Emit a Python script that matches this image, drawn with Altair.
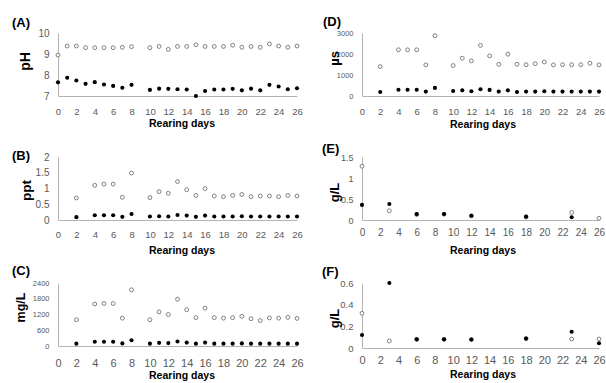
import altair as alt
import pandas as pd

# ---------------- data ----------------
days_ph = [0, 1, 2, 3, 4, 5, 6, 7, 8, 10, 11, 12, 13, 14, 15, 16, 17, 18, 19, 20, 21, 22, 23, 24, 25, 26]
ph_open = [8.95, 9.38, 9.38, 9.30, 9.30, 9.30, 9.30, 9.32, 9.35, 9.30, 9.36, 9.22, 9.36, 9.36, 9.44, 9.36,
           9.36, 9.36, 9.42, 9.32, 9.36, 9.32, 9.48, 9.38, 9.32, 9.38]
ph_closed = [7.65, 7.87, 7.74, 7.58, 7.66, 7.55, 7.48, 7.39, 7.53, 7.29, 7.35, 7.34, 7.32, 7.31, 7.00, 7.24,
             7.31, 7.31, 7.34, 7.27, 7.35, 7.27, 7.53, 7.45, 7.32, 7.37]

days_wq = [2, 4, 5, 6, 7, 8, 10, 11, 12, 13, 14, 15, 16, 17, 18, 19, 20, 21, 22, 23, 24, 25, 26]
us_open = [1400, 2200, 2200, 2200, 1480, 2870, 1450, 1800, 1670, 2410, 1910, 1510, 1990, 1510, 1490, 1540,
           1620, 1480, 1490, 1490, 1490, 1560, 1480]
us_closed = [190, 300, 300, 300, 210, 385, 240, 270, 225, 320, 290, 210, 270, 190, 210, 210, 225, 210, 210,
             210, 210, 210, 210]
ppt_open = [0.70, 1.10, 1.14, 1.14, 0.72, 1.49, 0.71, 0.90, 0.85, 1.22, 0.96, 0.78, 1.00, 0.76, 0.74, 0.78,
            0.81, 0.74, 0.76, 0.76, 0.74, 0.78, 0.76]
ppt_closed = [0.09, 0.15, 0.15, 0.15, 0.10, 0.19, 0.11, 0.12, 0.11, 0.16, 0.14, 0.10, 0.14, 0.11, 0.11, 0.11,
              0.12, 0.11, 0.11, 0.11, 0.11, 0.11, 0.11]
mgl_open = [1000, 1600, 1620, 1620, 1060, 2140, 1000, 1300, 1200, 1780, 1380, 1080, 1440, 1080, 1060, 1080,
            1130, 1040, 970, 1070, 1060, 1090, 1050]
mgl_closed = [90, 160, 160, 160, 100, 220, 90, 120, 110, 170, 130, 90, 130, 90, 90, 90, 100, 90, 90, 90, 90,
              90, 90]

days_s = [0, 3, 6, 9, 12, 18, 23, 26]
e_open = [1.28, 0.22, 0.13, 0.14, 0.10, 0.07, 0.18, 0.04]
e_days_closed = [0, 3, 6, 9, 12, 18, 23]
e_closed = [0.36, 0.38, 0.14, 0.14, 0.10, 0.08, 0.065]
f_open = [0.32, 0.065, 0.08, 0.08, 0.078, 0.087, 0.083, 0.083]
f_closed = [0.12, 0.60, 0.08, 0.08, 0.078, 0.087, 0.15, 0.044]

x_ticks = list(range(0, 27, 2))

# ---------------- style ----------------
FONT = "Liberation Sans, Arial, sans-serif"
AXIS_C = "#b3b3b3"
LABEL_C = "#595959"
FIG_W, FIG_H = 606, 383
LEFT_COL = (58, 297)
RIGHT_COL = (362, 599)


def panel(days_o, vals_o, days_c, vals_c, xr, ybot, ytop, ytitle, ydom, yvals,
          ylab_fs, xlab_fs, ytitle_fs, ytx, yty, xpad, xtx, xty):
    x_enc = alt.X(
        "day:Q",
        scale=alt.Scale(domain=[0, 26], range=[xr[0], xr[1]], nice=False, zero=False),
        axis=alt.Axis(orient="bottom", offset=ybot - FIG_H, values=x_ticks, format="d",
                      title="Rearing days", grid=False, ticks=False, tickSize=0,
                      domainColor=AXIS_C, domainWidth=1, labelColor=LABEL_C, labelFont=FONT,
                      labelFontSize=xlab_fs, labelPadding=xpad, labelFlush=False, labelOverlap=False,
                      titleFont=FONT, titleFontSize=10.5, titleFontWeight="bold", titleColor="black",
                      titleX=xtx, titleY=xty, titleAlign="center", titleBaseline="middle"),
    )
    y_enc = alt.Y(
        "value:Q",
        scale=alt.Scale(domain=ydom, range=[ybot, ytop], nice=False, zero=False),
        axis=alt.Axis(orient="left", offset=-xr[0], values=yvals, format="~r", title=ytitle,
                      grid=False, ticks=False, tickSize=0, domainColor=AXIS_C, domainWidth=1,
                      labelColor=LABEL_C, labelFont=FONT, labelFontSize=ylab_fs, labelPadding=9,
                      labelOverlap=False, labelFlush=False, titleFont=FONT, titleFontSize=ytitle_fs,
                      titleFontWeight="bold", titleColor="black", titleX=ytx, titleY=yty,
                      titleAlign="center", titleBaseline="middle", titleAngle=270),
    )
    df_o = pd.DataFrame({"day": days_o, "value": vals_o})
    df_c = pd.DataFrame({"day": days_c, "value": vals_c})
    open_pts = alt.Chart(df_o).mark_point(
        shape="circle", filled=False, fill="white", stroke="#7f7f7f", strokeWidth=1, size=15, opacity=1
    ).encode(x=x_enc, y=y_enc)
    closed_pts = alt.Chart(df_c).mark_circle(color="black", size=17, opacity=1).encode(x=x_enc, y=y_enc)
    return alt.layer(open_pts, closed_pts)


def letter(txt, px, py):
    return alt.Chart(pd.DataFrame({"k": [0]})).mark_text(
        text=txt, align="left", baseline="middle", font=FONT, fontSize=13, fontWeight="bold", color="black"
    ).encode(x=alt.value(px), y=alt.value(py))


pA = panel(days_ph, ph_open, days_ph, ph_closed, LEFT_COL, 96, 33, "pH", [7, 10], [7, 8, 9, 10],
           10, 9.5, 14, -32.5, 61, 10, 181.5, 27)
pD = panel(days_wq, us_open, days_wq, us_closed, RIGHT_COL, 96, 33, "µs", [0, 3000],
           [0, 1000, 2000, 3000], 7.5, 9.5, 13, -28, 58, 10, 482.5, 28)
pB = panel(days_wq, ppt_open, days_wq, ppt_closed, LEFT_COL, 220, 157, "ppt", [0, 2], [0, 0.5, 1, 1.5, 2],
           10, 9.5, 13.5, -32, 190, 9, 181.5, 30)
pE = panel(days_s, e_open, e_days_closed, e_closed, RIGHT_COL, 220, 157, "g/L", [0, 1.5],
           [0, 0.5, 1, 1.5], 9, 10, 13, -28, 192, 7, 482.5, 30)
pC = panel(days_wq, mgl_open, days_wq, mgl_closed, LEFT_COL, 346, 283, "mg/L", [0, 2400],
           [0, 600, 1200, 1800, 2400], 7.5, 11, 12.5, -38, 307, 11, 181.5, 29)
pF = panel(days_s, f_open, days_s, f_closed, RIGHT_COL, 348, 283, "g/L", [0, 0.6], [0, 0.2, 0.4, 0.6],
           9.5, 11, 13, -28, 318, 6, 482.5, 26)

chart = alt.layer(
    pA, pD, pB, pE, pC, pF,
    letter("(A)", 12, 23), letter("(B)", 12, 156), letter("(C)", 12, 271),
    letter("(D)", 323, 21.5), letter("(E)", 322, 149), letter("(F)", 322, 272),
).resolve_scale(x="independent", y="independent").properties(
    width=FIG_W, height=FIG_H,
    autosize=alt.AutoSizeParams(type="none"),
    padding=0,
    background="white",
).configure_view(strokeWidth=0)

chart.save("out.html", embed_options={"renderer": "svg", "actions": False})
